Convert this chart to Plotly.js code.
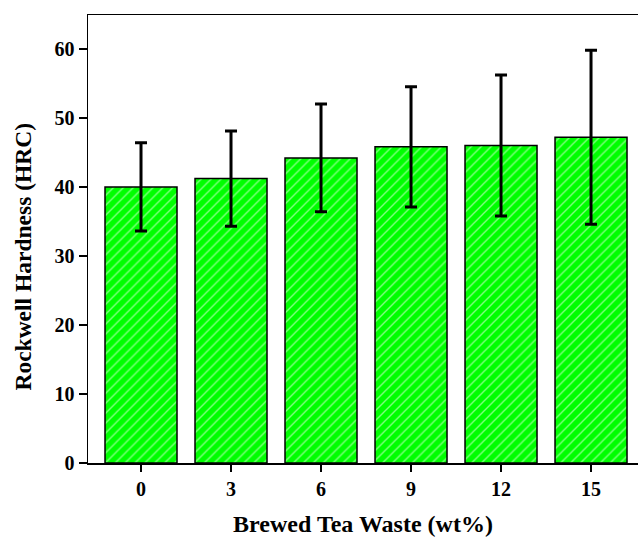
<!DOCTYPE html>
<html>
<head>
<meta charset="utf-8">
<script src="https://cdn.plot.ly/plotly-3.0.1.min.js"></script>
<style>
  html, body { margin: 0; padding: 0; background: #ffffff; }
  #chart { width: 638px; height: 537px; }
</style>
</head>
<body>
<div id="chart"></div>
<script>
// Tea waste loading (wt%) and measured Rockwell hardness
const teaWaste = ['0', '3', '6', '9', '12', '15'];
const hardness = [40.0, 41.2, 44.2, 45.8, 46.0, 47.2];
const hardnessSD = [6.4, 6.9, 7.8, 8.7, 10.2, 12.6];

const serif = '"Liberation Serif", "Times New Roman", Times, serif';

const trace = {
  type: 'bar',
  x: teaWaste,
  y: hardness,
  width: 0.8,
  marker: {
    color: '#00ff00',
    line: { color: '#000000', width: 1.5 },
    pattern: {
      shape: '/',
      fillmode: 'overlay',
      bgcolor: '#00ff00',
      fgcolor: '#ffffff',
      size: 7,
      solidity: 0.2
    }
  },
  error_y: {
    type: 'data',
    array: hardnessSD,
    visible: true,
    color: '#000000',
    thickness: 3,
    width: 6
  },
  hoverinfo: 'x+y'
};

const layout = {
  width: 638,
  height: 537,
  margin: { l: 88, r: 0, t: 15, b: 74 },
  paper_bgcolor: '#ffffff',
  plot_bgcolor: '#ffffff',
  showlegend: false,
  font: { family: serif, color: '#000000' },
  xaxis: {
    type: 'category',
    range: [-0.589, 5.522],
    showgrid: false,
    zeroline: false,
    showline: true,
    linecolor: '#000000',
    linewidth: 1.5,
    mirror: true,
    ticks: 'outside',
    ticklen: 7,
    tickwidth: 1.5,
    tickcolor: '#000000',
    tickfont: { family: serif, size: 20, color: '#000000', weight: 'bold' },
    title: {
      text: '<b>Brewed Tea Waste (wt%)</b>',
      font: { family: serif, size: 24, color: '#000000' },
      standoff: 16
    }
  },
  yaxis: {
    range: [0, 64.9],
    tickmode: 'array',
    tickvals: [0, 10, 20, 30, 40, 50, 60],
    showgrid: false,
    zeroline: false,
    showline: true,
    linecolor: '#000000',
    linewidth: 1.5,
    mirror: false,
    ticks: 'outside',
    ticklen: 8,
    tickwidth: 1.5,
    tickcolor: '#000000',
    tickfont: { family: serif, size: 20, color: '#000000', weight: 'bold' }
  },
  // y-axis title placed as a rotated annotation beside the tick labels
  annotations: [{
    text: '<b>Rockwell Hardness (HRC)</b>',
    textangle: -90,
    xref: 'paper',
    yref: 'paper',
    x: -0.118,
    y: 0.461,
    xanchor: 'center',
    yanchor: 'middle',
    showarrow: false,
    font: { family: serif, size: 23.5, color: '#000000' }
  }]
};

Plotly.newPlot('chart', [trace], layout, { displayModeBar: false, staticPlot: true });
</script>
</body>
</html>
